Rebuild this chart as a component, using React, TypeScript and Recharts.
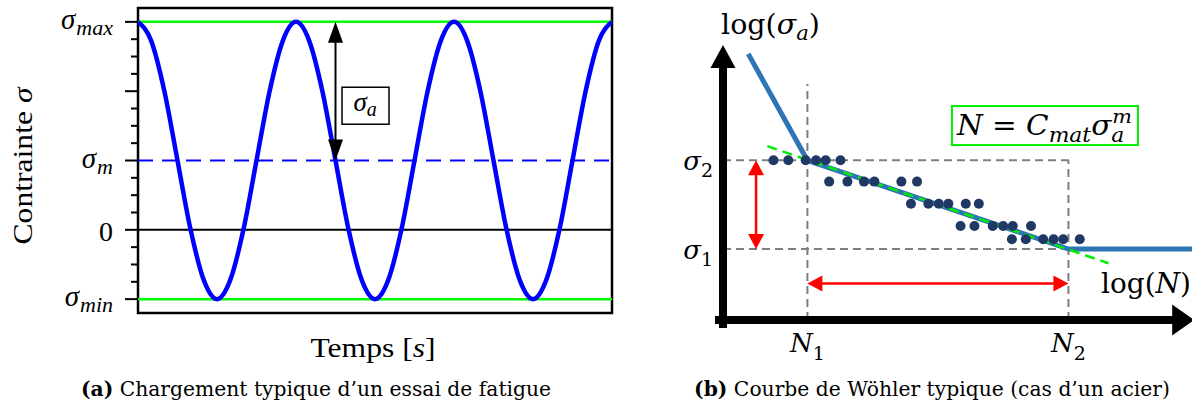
import {
  ComposedChart,
  Line,
  Scatter,
  XAxis,
  YAxis,
  ReferenceLine,
  ReferenceArea,
  ReferenceDot,
} from 'recharts'

// ---- (a) loading signal ----
const cycleTime = [
  0, 0.083, 0.167, 0.25, 0.333, 0.417, 0.5, 0.583, 0.667, 0.75, 0.833, 0.917,
  1, 1.083, 1.167, 1.25, 1.333, 1.417, 1.5, 1.583, 1.667, 1.75, 1.833, 1.917,
  2, 2.083, 2.167, 2.25, 2.333, 2.417, 2.5, 2.583, 2.667, 2.75, 2.833, 2.917, 3,
]
const cycleStress = [
  3, 2.73, 2, 1, 0, -0.73, -1, -0.73, 0, 1, 2, 2.73,
  3, 2.73, 2, 1, 0, -0.73, -1, -0.73, 0, 1, 2, 2.73,
  3, 2.73, 2, 1, 0, -0.73, -1, -0.73, 0, 1, 2, 2.73, 3,
]
const SIGMA_MAX = 3
const SIGMA_M = 1
const SIGMA_MIN = -1
const stressTicks = [
  -1, -0.75, -0.5, -0.25, 0, 0.25, 0.5, 0.75, 1, 1.25, 1.5, 1.75, 2, 2.25, 2.5, 2.75, 3,
]
const stressTickValues = [3, 1, 0, -1]
const stressTickSubs = ['max', 'm', '', 'min']
const AMPLITUDE_T = 1.25

// ---- (b) Wöhler curve ----
const basquinN = [2.32, 3, 6, 7.42]
const basquinS = [3.1, 2.5, 2.0, 2.0]
const fitN = [2.54, 6.46]
const fitS = [2.58, 1.92]
const testN = [
  2.61, 2.78, 2.98, 3.1, 3.21, 3.38,
  3.25, 3.46, 3.65, 3.77, 4.08, 4.26,
  4.19, 4.39, 4.51, 4.62, 4.82, 4.97,
  4.76, 4.92, 5.13, 5.25, 5.36, 5.57,
  5.35, 5.51, 5.71, 5.83, 5.94, 6.13,
]
const testS = [
  2.5, 2.5, 2.5, 2.5, 2.5, 2.5,
  2.38, 2.38, 2.38, 2.38, 2.38, 2.38,
  2.255, 2.255, 2.255, 2.255, 2.255, 2.255,
  2.13, 2.13, 2.13, 2.13, 2.13, 2.13,
  2.055, 2.055, 2.055, 2.055, 2.055, 2.055,
]
const N1 = 3
const N2 = 6
const S1 = 2.0
const S2 = 2.5
const cycleTicks = [N1, N2]
const cycleTickNames = ['1', '2']
const ampTicks = [S1, S2]
const ampTickNames = ['1', '2']

const cycle = cycleTime.map((t, i) => ({ t, s: cycleStress[i] }))
const basquin = basquinN.map((x, i) => ({ x, y: basquinS[i] }))
const fit = fitN.map((x, i) => ({ x, y: fitS[i] }))
const tests = testN.map((x, i) => ({ x, y: testS[i] }))

const SERIF = '"Liberation Serif", "DejaVu Serif", serif'
const MATH_B = '"DejaVu Serif", serif'

// arrow drawn from a ReferenceLine segment
const arrowShape =
  (o: { color: string; width: number; head: number; headW: number; both: boolean }) =>
  (p: any) => {
    const { x1, y1, x2, y2 } = p
    const dx = x2 - x1
    const dy = y2 - y1
    const len = Math.hypot(dx, dy) || 1
    const ux = dx / len
    const uy = dy / len
    const nx = -uy
    const ny = ux
    const head = (tx: number, ty: number, dirx: number, diry: number) => {
      const bx = tx - dirx * o.head
      const by = ty - diry * o.head
      return `${tx},${ty} ${bx + (nx * o.headW) / 2},${by + (ny * o.headW) / 2} ${bx - (nx * o.headW) / 2},${by - (ny * o.headW) / 2}`
    }
    const sx = o.both ? x1 + ux * (o.head - 2) : x1
    const sy = o.both ? y1 + uy * (o.head - 2) : y1
    const ex = x2 - ux * (o.head - 2)
    const ey = y2 - uy * (o.head - 2)
    return (
      <g>
        <line x1={sx} y1={sy} x2={ex} y2={ey} stroke={o.color} strokeWidth={o.width} strokeLinecap={o.both ? 'butt' : 'square'} />
        <polygon points={head(x2, y2, ux, uy)} fill={o.color} />
        {o.both && <polygon points={head(x1, y1, -ux, -uy)} fill={o.color} />}
      </g>
    )
  }

const blackArrow = arrowShape({ color: '#000', width: 2, head: 21, headW: 15, both: true })
const redArrow = arrowShape({ color: '#ff0000', width: 2.5, head: 15, headW: 16, both: true })
const yAxisArrow = arrowShape({ color: '#000', width: 8, head: 23, headW: 25, both: false })
const xAxisArrow = arrowShape({ color: '#000', width: 8, head: 22, headW: 31, both: false })

function StressTick(props: any) {
  const { x, y, payload } = props
  const v = payload.value
  const major = Number.isInteger(v)
  const idx = stressTickValues.indexOf(v)
  const sub = idx >= 0 ? stressTickSubs[idx] : null
  return (
    <g>
      <line x1={x - (major ? 13 : 7)} y1={y} x2={x} y2={y} stroke="#000" strokeWidth={2} />
      {idx >= 0 && sub !== '' && (
        <text x={x - 25} y={y + 7} textAnchor="end" fontFamily={SERIF} fontStyle="italic" fontSize={29} fill="#000">
          σ
          <tspan fontSize={22} dy={6} dx={1}>
            {sub}
          </tspan>
        </text>
      )}
      {idx >= 0 && sub === '' && (
        <text x={x - 25} y={y + 11} textAnchor="end" fontFamily={SERIF} fontSize={28} fill="#000">
          0
        </text>
      )}
    </g>
  )
}

const contrainteLabel = () => (
  <text
    transform="translate(32,166) rotate(-90)"
    textAnchor="middle"
    fontFamily={SERIF}
    fontSize={28}
    fill="#000"
    textLength={157}
    lengthAdjust="spacingAndGlyphs"
  >
    Contrainte <tspan fontStyle="italic">σ</tspan>
  </text>
)

const tempsLabel = () => (
  <text x={373} y={357} textAnchor="middle" fontFamily={SERIF} fontSize={28} fill="#000" textLength={125} lengthAdjust="spacingAndGlyphs">
    Temps [<tspan fontStyle="italic">s</tspan>]
  </text>
)

const sigmaABox = (p: any) => {
  const { cx, cy } = p
  return (
    <g>
      <rect x={cx - 23.5} y={cy - 18.5} width={47} height={37} fill="#fff" stroke="#000" strokeWidth={1.5} />
      <text x={cx - 12} y={cy + 5} fontFamily={SERIF} fontStyle="italic" fontSize={27} fill="#000">
        σ<tspan fontSize={20} dy={5}>a</tspan>
      </text>
    </g>
  )
}

function CycleTick(props: any) {
  const { x, y, payload } = props
  const idx = cycleTicks.indexOf(payload.value)
  return (
    <text x={x} y={y + 32} textAnchor="middle" fontFamily={MATH_B} fontStyle="italic" fontSize={26} fill="#000">
      N<tspan fontStyle="normal" fontSize={19} dy={8}>{cycleTickNames[idx]}</tspan>
    </text>
  )
}

function AmpTick(props: any) {
  const { x, y, payload } = props
  const idx = ampTicks.indexOf(payload.value)
  return (
    <text x={x - 10} y={y + 10} textAnchor="end" fontFamily={MATH_B} fontStyle="italic" fontSize={26} fill="#000">
      σ<tspan fontStyle="normal" fontSize={19} dy={7}>{ampTickNames[idx]}</tspan>
    </text>
  )
}

const logSLabel = () => (
  <text x={721} y={34} fontFamily={MATH_B} fontSize={27} fill="#000" textLength={99} lengthAdjust="spacingAndGlyphs" transform="translate(-640,0)">
    log(<tspan fontStyle="italic">σ</tspan>
    <tspan fontStyle="italic" fontSize={20} dy={6}>a</tspan>
    <tspan dy={-6}>)</tspan>
  </text>
)

const logNLabel = () => (
  <text x={1191} y={293} textAnchor="end" fontFamily={MATH_B} fontSize={27} fill="#000" textLength={90} lengthAdjust="spacingAndGlyphs" transform="translate(-640,0)">
    log(<tspan fontStyle="italic">N</tspan>)
  </text>
)

const basquinBox = (p: any) => {
  const { cx, cy } = p
  return (
    <g>
      <rect x={cx - 93} y={cy - 19.5} width={186} height={39} fill="#fff" stroke="#00ee00" strokeWidth={2} />
      <text x={cx - 88} y={cy + 9.5} fontFamily={MATH_B} fontSize={27} fill="#000" textLength={175} lengthAdjust="spacingAndGlyphs">
        <tspan fontStyle="italic">N</tspan> = <tspan fontStyle="italic">C</tspan>
        <tspan fontStyle="italic" fontSize={20} dy={7}>mat</tspan>
        <tspan fontStyle="italic" dy={-7}>σ</tspan>
        <tspan fontStyle="italic" fontSize={20} dy={7}>a</tspan>
        <tspan fontStyle="italic" fontSize={19} dx={-11} dy={-19}>m</tspan>
      </text>
    </g>
  )
}

const dot = (p: any) => <circle cx={p.cx} cy={p.cy} r={5} fill="#1f3864" />

const GRAY = '#7f7f7f'

const captionStyle = {
  position: 'absolute' as const,
  top: 376,
  textAlign: 'center' as const,
  fontFamily: '"DejaVu Serif", serif',
  fontSize: 20.3,
  lineHeight: '26px',
  color: '#000',
  whiteSpace: 'nowrap' as const,
}

export default function App() {
  return (
    <div style={{ position: 'absolute', left: 0, top: 0, width: 1192, height: 407, background: '#fff', overflow: 'hidden' }}>
      <div style={{ position: 'absolute', left: 0, top: 0 }}>
        <ComposedChart width={640} height={407} margin={{ top: 8, right: 28, bottom: 34, left: 78 }}>
          <XAxis dataKey="t" type="number" domain={[0, 3]} tick={false} axisLine={false} tickLine={false} height={60} label={tempsLabel} allowDataOverflow />
          <YAxis
            type="number"
            domain={[-1.2, 3.2]}
            ticks={stressTicks}
            interval={0}
            width={60}
            tickSize={0}
            tickMargin={0}
            axisLine={false}
            tickLine={false}
            tick={(p: any) => <StressTick {...p} />}
            label={contrainteLabel}
            allowDataOverflow
          />
          <ReferenceLine y={SIGMA_MAX} stroke="#00ff00" strokeWidth={2.5} />
          <ReferenceLine y={SIGMA_MIN} stroke="#00ff00" strokeWidth={2.5} />
          <ReferenceLine y={0} stroke="#000" strokeWidth={2} />
          <ReferenceLine y={SIGMA_M} stroke="#0000ff" strokeWidth={2} strokeDasharray="15 9" />
          <Line data={cycle} dataKey="s" type="monotone" stroke="#0000ff" strokeWidth={4.5} dot={false} isAnimationActive={false} />
          <ReferenceLine
            segment={[{ x: AMPLITUDE_T, y: SIGMA_MAX }, { x: AMPLITUDE_T, y: SIGMA_M }]}
            ifOverflow="visible"
            shape={blackArrow}
          />
          <ReferenceDot x={1.44} y={1.79} ifOverflow="visible" shape={sigmaABox} />
          <ReferenceArea x1={0} x2={3} y1={-1.2} y2={3.2} fill="none" fillOpacity={0} stroke="#000" strokeWidth={2.5} ifOverflow="visible" />
        </ComposedChart>
      </div>

      <div style={{ position: 'absolute', left: 640, top: 0 }}>
        <ComposedChart width={552} height={407} margin={{ top: 45, right: 0, bottom: 37, left: 43 }}>
          <XAxis
            dataKey="x"
            type="number"
            domain={[2.03, 7.42]}
            ticks={cycleTicks}
            interval={0}
            tickSize={0}
            tickMargin={0}
            axisLine={false}
            tickLine={false}
            tick={(p: any) => <CycleTick {...p} />}
            height={50}
            label={logNLabel}
            allowDataOverflow
          />
          <YAxis
            dataKey="y"
            type="number"
            domain={[1.6, 3.15]}
            ticks={ampTicks}
            interval={0}
            width={40}
            tickSize={0}
            tickMargin={0}
            axisLine={false}
            tickLine={false}
            tick={(p: any) => <AmpTick {...p} />}
            label={logSLabel}
            allowDataOverflow
          />
          <ReferenceLine segment={[{ x: 2.03, y: S2 }, { x: 6.05, y: S2 }]} stroke={GRAY} strokeWidth={2} strokeDasharray="8 5" ifOverflow="visible" />
          <ReferenceLine segment={[{ x: 2.03, y: S1 }, { x: N2, y: S1 }]} stroke={GRAY} strokeWidth={2} strokeDasharray="8 5" ifOverflow="visible" />
          <ReferenceLine segment={[{ x: N1, y: 1.6 }, { x: N1, y: 2.93 }]} stroke={GRAY} strokeWidth={2} strokeDasharray="8 5" ifOverflow="visible" />
          <ReferenceLine segment={[{ x: N2, y: 1.6 }, { x: N2, y: S2 }]} stroke={GRAY} strokeWidth={2} strokeDasharray="8 5" ifOverflow="visible" />
          <Line data={basquin} dataKey="y" type="linear" stroke="#2e75b6" strokeWidth={5} dot={false} isAnimationActive={false} />
          <Scatter data={tests} dataKey="y" shape={dot} isAnimationActive={false} />
          <Line data={fit} dataKey="y" type="linear" stroke="#00ee00" strokeWidth={2.5} strokeDasharray="10 6" dot={false} isAnimationActive={false} />
          <ReferenceLine segment={[{ x: 2.41, y: S2 }, { x: 2.41, y: S1 }]} shape={redArrow} ifOverflow="visible" />
          <ReferenceLine segment={[{ x: N1, y: 1.806 }, { x: N2, y: 1.806 }]} shape={redArrow} ifOverflow="visible" />
          <ReferenceLine segment={[{ x: 2.03, y: 1.5775 }, { x: 2.03, y: 3.15 }]} shape={yAxisArrow} ifOverflow="visible" />
          <ReferenceLine segment={[{ x: 1.984, y: 1.6 }, { x: 7.445, y: 1.6 }]} shape={xAxisArrow} ifOverflow="visible" />
          <ReferenceDot x={5.73} y={2.696} ifOverflow="visible" shape={basquinBox} />
        </ComposedChart>
      </div>

      <div style={{ ...captionStyle, left: 0, width: 632 }}>
        <b>(a)</b> Chargement typique d’un essai de fatigue
      </div>
      <div style={{ ...captionStyle, left: 672, width: 520 }}>
        <b>(b)</b> Courbe de Wöhler typique (cas d’un acier)
      </div>
    </div>
  )
}
